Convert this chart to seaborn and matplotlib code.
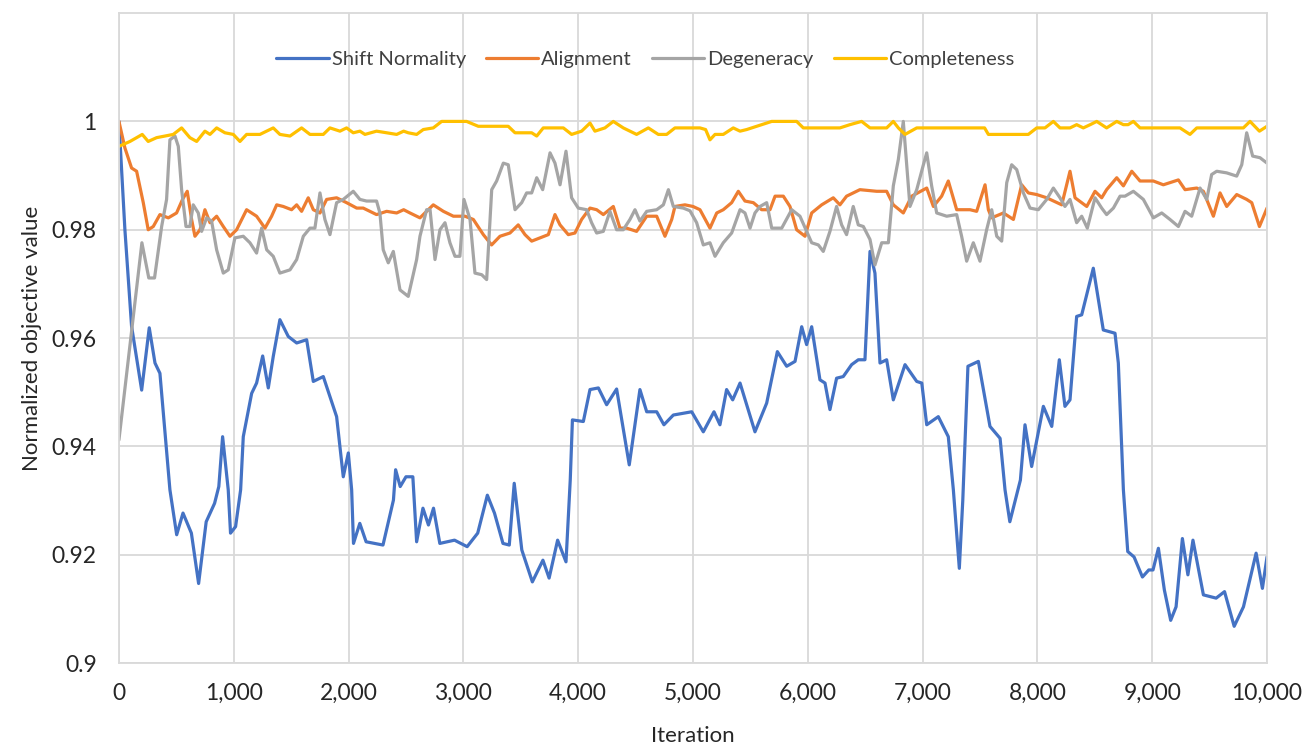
import matplotlib
matplotlib.use("Agg")
import matplotlib.pyplot as plt
from matplotlib.ticker import FuncFormatter, MultipleLocator
import seaborn as sns

# values (iteration, normalized objective value)
shift_x = [0, 52, 110, 198, 264, 314, 357, 444, 503, 558, 631, 694, 760, 833, 870, 903, 952, 972,
           1016, 1060, 1083, 1156, 1199, 1252, 1301, 1344, 1402, 1475, 1548, 1635, 1693, 1780, 1896,
           1954, 1998, 2027, 2043, 2098, 2153, 2300, 2391, 2410, 2450, 2500, 2560, 2593, 2648, 2696,
           2740, 2795, 2923, 3033, 3125, 3209, 3271, 3345, 3400, 3443, 3509, 3601, 3693, 3747, 3821,
           3894, 3931, 3950, 4045, 4103, 4176, 4248, 4335, 4445, 4538, 4597, 4684, 4747, 4829, 4989,
           5090, 5183, 5235, 5293, 5346, 5410, 5540, 5642, 5735, 5816, 5889, 5947, 5990, 6034, 6106,
           6150, 6193, 6251, 6309, 6382, 6440, 6498, 6542, 6585, 6629, 6687, 6745, 6847, 6949, 6993,
           7036, 7137, 7224, 7268, 7320, 7350, 7395, 7486, 7587, 7675, 7718, 7760, 7852, 7892, 7950,
           8052, 8125, 8191, 8240, 8284, 8342, 8386, 8487, 8574, 8676, 8705, 8749, 8787, 8842, 8915,
           8970, 9007, 9054, 9106, 9161, 9208, 9263, 9311, 9355, 9446, 9502, 9557, 9630, 9714, 9795,
           9905, 9960, 10000]
shift_y = [1.0, 0.98, 0.9622, 0.9504, 0.9619, 0.9554, 0.9535, 0.932, 0.9237, 0.9277, 0.924, 0.9147,
           0.9261, 0.9295, 0.9326, 0.9418, 0.932, 0.924, 0.9252, 0.932, 0.9418, 0.9498, 0.9517,
           0.9567, 0.9508, 0.9566, 0.9634, 0.9603, 0.9591, 0.9597, 0.952, 0.9529, 0.9455, 0.9344,
           0.9388, 0.932, 0.9221, 0.9258, 0.9224, 0.9218, 0.9301, 0.9357, 0.9326, 0.9344, 0.9344,
           0.9224, 0.9286, 0.9255, 0.9286, 0.9221, 0.9227, 0.9215, 0.924, 0.931, 0.9277, 0.9221,
           0.9218, 0.9332, 0.9209, 0.915, 0.919, 0.9157, 0.9227, 0.9187, 0.9338, 0.9449, 0.9446,
           0.9505, 0.9508, 0.9477, 0.9506, 0.9366, 0.9505, 0.9464, 0.9464, 0.944, 0.9458, 0.9464,
           0.9427, 0.9464, 0.944, 0.9505, 0.9486, 0.9517, 0.9427, 0.948, 0.9575, 0.9548, 0.9557,
           0.9621, 0.9588, 0.9621, 0.9523, 0.9517, 0.9468, 0.9526, 0.9529, 0.9551, 0.956, 0.956,
           0.976, 0.972, 0.9554, 0.956, 0.9486, 0.9551, 0.952, 0.9517, 0.944, 0.9455, 0.9418, 0.932,
           0.9175, 0.930, 0.9548, 0.9557, 0.9437, 0.9415, 0.932, 0.9261, 0.9338, 0.944, 0.9363,
           0.9474, 0.9437, 0.956, 0.9474, 0.9486, 0.964, 0.9643, 0.9729, 0.9615, 0.9609, 0.9554,
           0.932, 0.9206, 0.9196, 0.9159, 0.9172, 0.9172, 0.9212, 0.9135, 0.9079, 0.9104, 0.923,
           0.9163, 0.9227, 0.9126, 0.9123, 0.912, 0.9132, 0.9068, 0.9104, 0.9203, 0.9138, 0.9196]

align_x = [0, 52, 110, 154, 212, 255, 299, 357, 430, 502, 554, 595, 633, 662, 706, 749, 793, 851,
           909, 967, 1025, 1112, 1199, 1272, 1330, 1374, 1431, 1504, 1548, 1591, 1649, 1693, 1751,
           1809, 1896, 1983, 2071, 2128, 2186, 2244, 2332, 2419, 2480, 2535, 2622, 2680, 2738, 2826,
           2913, 3014, 3087, 3174, 3246, 3319, 3406, 3478, 3537, 3595, 3667, 3740, 3798, 3842, 3914,
           3972, 4030, 4103, 4161, 4219, 4306, 4364, 4422, 4509, 4597, 4684, 4756, 4815, 4843, 4930,
           5000, 5061, 5148, 5207, 5264, 5337, 5395, 5453, 5526, 5598, 5671, 5715, 5787, 5845, 5903,
           5976, 6034, 6121, 6222, 6280, 6338, 6454, 6600, 6687, 6745, 6832, 6905, 7036, 7094, 7166,
           7224, 7297, 7413, 7471, 7544, 7573, 7602, 7704, 7791, 7863, 7921, 7994, 8081, 8212, 8284,
           8328, 8430, 8502, 8560, 8603, 8691, 8749, 8822, 8894, 9010, 9097, 9228, 9286, 9388, 9446,
           9533, 9591, 9649, 9736, 9823, 9867, 9934, 10000]
align_y = [1.0, 0.9951, 0.9914, 0.9908, 0.985, 0.98, 0.9806, 0.9828, 0.9822, 0.9831, 0.9856,
           0.9871, 0.9819, 0.9788, 0.98, 0.9837, 0.9813, 0.9825, 0.9806, 0.9788, 0.98, 0.9837,
           0.9825, 0.9803, 0.9825, 0.9846, 0.9843, 0.9837, 0.9846, 0.9834, 0.9859, 0.9837, 0.9831,
           0.9856, 0.9859, 0.985, 0.984, 0.984, 0.9834, 0.9828, 0.9834, 0.9831, 0.9837, 0.9831,
           0.9822, 0.9834, 0.9846, 0.9834, 0.9825, 0.9825, 0.9819, 0.9791, 0.9772, 0.9788, 0.9794,
           0.9809, 0.9791, 0.9779, 0.9785, 0.9791, 0.9828, 0.9809, 0.9791, 0.9794, 0.9819, 0.984,
           0.9837, 0.9828, 0.9843, 0.9803, 0.9803, 0.9797, 0.9825, 0.9825, 0.9788, 0.9819, 0.9843,
           0.9846, 0.9843, 0.9837, 0.9803, 0.9831, 0.9837, 0.985, 0.9871, 0.9853, 0.985, 0.9837,
           0.9837, 0.9862, 0.9862, 0.9843, 0.98, 0.9788, 0.9831, 0.9846, 0.9859, 0.9846, 0.9862,
           0.9874, 0.9871, 0.9871, 0.9846, 0.9831, 0.9862, 0.9877, 0.9843, 0.9862, 0.989, 0.9837,
           0.9837, 0.9834, 0.9883, 0.9837, 0.9822, 0.9831, 0.9819, 0.9883, 0.9868, 0.9865, 0.9859,
           0.9846, 0.9908, 0.9859, 0.9843, 0.9871, 0.9859, 0.9874, 0.9896, 0.9881, 0.9908, 0.989,
           0.989, 0.9883, 0.9892, 0.9874, 0.9877, 0.9871, 0.9825, 0.9868, 0.9843, 0.9865, 0.9856,
           0.985, 0.9806, 0.984]

degen_x = [0, 200, 260, 310, 372, 415, 444, 488, 517, 546, 584, 618, 647, 691, 720, 764, 807, 851,
           909, 952, 1010, 1083, 1141, 1199, 1243, 1287, 1344, 1402, 1490, 1548, 1606, 1664, 1707,
           1751, 1794, 1838, 1896, 1954, 2041, 2099, 2157, 2244, 2273, 2302, 2346, 2390, 2448, 2520,
           2593, 2622, 2680, 2710, 2753, 2796, 2840, 2883, 2927, 2970, 3005, 3058, 3101, 3160, 3203,
           3247, 3290, 3348, 3391, 3450, 3508, 3551, 3595, 3639, 3691, 3755, 3798, 3842, 3894, 3943,
           4001, 4074, 4117, 4161, 4219, 4277, 4335, 4393, 4451, 4495, 4538, 4597, 4684, 4742, 4786,
           4829, 4916, 4974, 5032, 5090, 5148, 5192, 5264, 5337, 5410, 5453, 5497, 5540, 5584, 5642,
           5686, 5773, 5860, 5932, 5990, 6034, 6092, 6135, 6193, 6251, 6295, 6338, 6396, 6440, 6484,
           6542, 6585, 6644, 6702, 6745, 6789, 6832, 6890, 6949, 7007, 7036, 7079, 7123, 7210, 7297,
           7340, 7384, 7442, 7500, 7558, 7602, 7646, 7689, 7733, 7776, 7820, 7878, 7936, 8008, 8081,
           8139, 8197, 8240, 8284, 8342, 8386, 8435, 8502, 8560, 8603, 8662, 8720, 8763, 8836, 8923,
           9010, 9083, 9155, 9228, 9286, 9344, 9417, 9475, 9518, 9562, 9649, 9736, 9780, 9823, 9875,
           9939, 10000]
degen_y = [0.9412, 0.9776, 0.9711, 0.9711, 0.9806, 0.9856, 0.9966, 0.9973, 0.9954, 0.9874, 0.9806,
           0.9806, 0.9846, 0.9831, 0.9797, 0.9822, 0.9816, 0.9763, 0.972, 0.9726, 0.9785, 0.9788,
           0.9776, 0.9757, 0.9803, 0.9763, 0.9751, 0.972, 0.9726, 0.9745, 0.9788, 0.9803, 0.9803,
           0.9868, 0.9819, 0.9791, 0.985, 0.9856, 0.9871, 0.9856, 0.9853, 0.9853, 0.9831, 0.9763,
           0.9739, 0.976, 0.9689, 0.9677, 0.9745, 0.9788, 0.9837, 0.9837, 0.9745, 0.98, 0.9813,
           0.9776, 0.9751, 0.9751, 0.9856, 0.9819, 0.972, 0.9717, 0.9708, 0.9874, 0.989, 0.9923,
           0.992, 0.9837, 0.985, 0.9868, 0.9868, 0.9896, 0.9874, 0.9942, 0.9923, 0.9883, 0.9945,
           0.9859, 0.984, 0.9837, 0.9813, 0.9794, 0.9797, 0.9834, 0.98, 0.98, 0.9819, 0.9837, 0.9816,
           0.9834, 0.9837, 0.9846, 0.9874, 0.9843, 0.984, 0.9835, 0.9813, 0.9772, 0.9776, 0.9751,
           0.9776, 0.9794, 0.9837, 0.9831, 0.9803, 0.9831, 0.9843, 0.985, 0.9803, 0.9803, 0.9837,
           0.9825, 0.9797, 0.9776, 0.9772, 0.976, 0.9797, 0.9843, 0.9809, 0.9791, 0.9843, 0.9809,
           0.9806, 0.9782, 0.9735, 0.9776, 0.9776, 0.9881, 0.993, 1.0, 0.9843, 0.9874, 0.992, 0.9942,
           0.9881, 0.9831, 0.9825, 0.9828, 0.9788, 0.9742, 0.9776, 0.9742, 0.98, 0.9837, 0.9788,
           0.9779, 0.9887, 0.992, 0.9911, 0.9868, 0.984, 0.9837, 0.9856, 0.9877, 0.9859, 0.9843,
           0.9856, 0.9813, 0.9825, 0.9803, 0.9859, 0.984, 0.9828, 0.984, 0.9862, 0.9862, 0.9871,
           0.9856, 0.9822, 0.9831, 0.9819, 0.9806, 0.9834, 0.9825, 0.9877, 0.9856, 0.9902, 0.9908,
           0.9905, 0.9899, 0.992, 0.9979, 0.9936, 0.9933, 0.9923]

compl_x = [0, 96, 154, 203, 255, 328, 401, 473, 546, 618, 677, 749, 793, 851, 923, 996, 1054, 1112,
           1228, 1344, 1402, 1490, 1591, 1664, 1780, 1838, 1925, 1983, 2041, 2099, 2143, 2244, 2332,
           2419, 2480, 2520, 2593, 2651, 2738, 2811, 3028, 3130, 3391, 3450, 3595, 3639, 3696, 3871,
           3943, 4030, 4103, 4146, 4233, 4306, 4393, 4509, 4611, 4698, 4771, 4843, 5061, 5110, 5148,
           5192, 5264, 5351, 5410, 5468, 5555, 5686, 5903, 5961, 6280, 6367, 6469, 6542, 6687, 6745,
           6789, 6847, 6949, 7540, 7573, 7921, 7994, 8066, 8139, 8197, 8284, 8342, 8400, 8460, 8517,
           8603, 8691, 8749, 8790, 8836, 8894, 9242, 9329, 9388, 9794, 9852, 9934, 10000]
compl_y = [0.9954, 0.9963, 0.997, 0.9976, 0.9963, 0.997, 0.9973, 0.9976, 0.9988, 0.997, 0.9963,
           0.9982, 0.9976, 0.9988, 0.9979, 0.9976, 0.9963, 0.9976, 0.9976, 0.9988, 0.9976, 0.9973,
           0.9988, 0.9976, 0.9976, 0.9988, 0.9982, 0.9988, 0.9979, 0.9982, 0.9976, 0.9982, 0.9979,
           0.9976, 0.9982, 0.9979, 0.9976, 0.9985, 0.9988, 1.0, 1.0, 0.9991, 0.9991, 0.9979, 0.9979,
           0.9973, 0.9988, 0.9988, 0.9976, 0.9982, 0.9997, 0.9982, 0.9988, 1.0, 0.9988, 0.9976,
           0.9988, 0.9976, 0.9976, 0.9988, 0.9988, 0.9985, 0.9966, 0.9976, 0.9976, 0.9988, 0.9982,
           0.9985, 0.9991, 1.0, 1.0, 0.9988, 0.9988, 0.9994, 1.0, 0.9988, 0.9988, 1.0, 0.9988,
           0.9976, 0.9988, 0.9988, 0.9976, 0.9976, 0.9988, 0.9988, 1.0, 0.9988, 0.9988, 0.9994,
           0.9988, 0.9994, 1.0, 0.9988, 1.0, 0.9994, 0.9994, 1.0, 0.9988, 0.9988, 0.9976, 0.9988,
           0.9988, 1.0, 0.9982, 0.9991]

series = [
    ("Shift Normality", shift_x, shift_y, "#4472C4"),
    ("Alignment", align_x, align_y, "#ED7D31"),
    ("Degeneracy", degen_x, degen_y, "#A5A5A5"),
    ("Completeness", compl_x, compl_y, "#FFC000"),
]

sns.set_theme(style="whitegrid")
plt.rcParams["font.family"] = ["Lato", "DejaVu Sans"]

fig = plt.figure(figsize=(13.07, 7.51), dpi=100)
ax = fig.add_axes([0.091, 0.117, 0.8784, 0.8656])

for name, xs, ys, col in series:
    sns.lineplot(x=xs, y=ys, ax=ax, color=col, linewidth=2.3, label=name,
                 estimator=None, sort=False)

ax.set_xlim(0, 10000)
ax.set_ylim(0.9, 1.02)
ax.xaxis.set_major_locator(MultipleLocator(1000))
ax.set_yticks([0.9, 0.92, 0.94, 0.96, 0.98, 1.0])
ax.xaxis.set_major_formatter(FuncFormatter(lambda v, _: f"{int(round(v)):,}"))
ax.yaxis.set_major_formatter(FuncFormatter(lambda v, _: f"{v:g}"))
# extra top gridline at 1.02 comes from the frame
ax.grid(True, color="#D9D9D9", linewidth=1.3)
for sp in ax.spines.values():
    sp.set_color("#D9D9D9")
    sp.set_linewidth(1.3)
ax.tick_params(axis="both", length=0, labelsize=16.5, colors="#262626")
ax.tick_params(axis="x", pad=14)
ax.tick_params(axis="y", pad=16)

ax.set_xlabel("Iteration", fontsize=16, color="#262626", labelpad=16)
ax.set_ylabel("Normalized objective value", fontsize=16, color="#262626", labelpad=7)

leg = ax.legend(loc="upper center", bbox_to_anchor=(0.4585, 0.97), ncol=4, frameon=False,
                fontsize=14.5, handlelength=2.6, handletextpad=0.15, columnspacing=1.0)
for t in leg.get_texts():
    t.set_color("#404040")

fig.savefig("out.png", dpi=100)
